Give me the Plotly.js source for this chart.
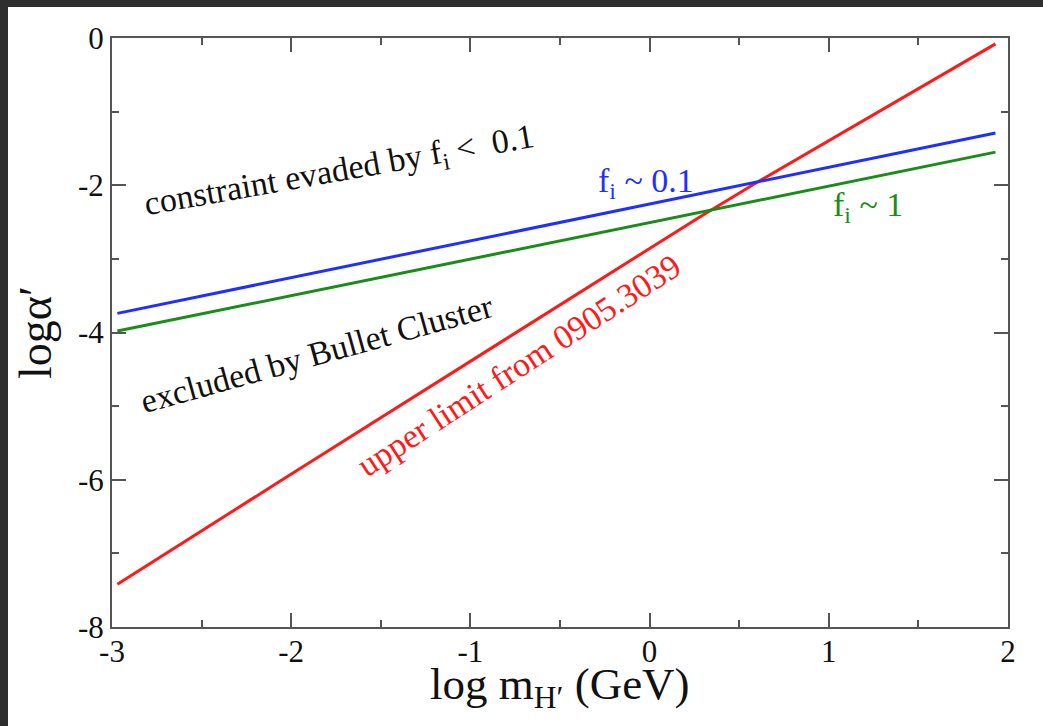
<!DOCTYPE html>
<html><head><meta charset="utf-8">
<script src="https://cdn.plot.ly/plotly-3.0.1.min.js"></script>
<style>
html,body{margin:0;padding:0;background:#2e2e2e;width:1043px;height:726px;overflow:hidden;}
#chart{position:absolute;left:8px;top:7px;width:1035px;height:719px;background:#fff;}
</style></head><body>
<div id="chart"></div>
<script>
// Data (log10 scale)
const redX = [-2.97, -2.05, 0.28, 0.60, 1.93];
const redY = [-7.42, -6.00, -2.43, -1.96, -0.08];
const blueX = [-2.97, 1.93];
const blueY = [-3.74, -1.29];
const greenX = [-2.97, 1.93];
const greenY = [-3.98, -1.55];
const xTickVals = [-3, -2, -1, 0, 1, 2];
const yTickVals = [0, -2, -4, -6, -8];

const font = "Liberation Serif";
const traces = [
  {x: redX, y: redY, mode: 'lines', line: {color: '#ff1a1a', width: 3}, name: 'upper limit'},
  {x: blueX, y: blueY, mode: 'lines', line: {color: '#1f2fff', width: 3}, name: 'fi~0.1'},
  {x: greenX, y: greenY, mode: 'lines', line: {color: '#1a8c1a', width: 3}, name: 'fi~1'}
];
const axisCommon = {
  showgrid: false, zeroline: false, showline: true, linecolor: '#555', linewidth: 2,
  mirror: 'ticks', ticks: 'inside', ticklen: 14, tickwidth: 2, tickcolor: '#555',
  tickfont: {family: font, size: 31, color: '#111'}
};
const layout = {
  width: 1035, height: 719,
  margin: {l: 104, r: 35, t: 31, b: 99},
  paper_bgcolor: '#fff', plot_bgcolor: '#fff',
  showlegend: false,
  xaxis: Object.assign({}, axisCommon, {
    range: [-3, 2], tickvals: xTickVals, ticktext: xTickVals.map(String),
    ticklabelstandoff: -4,
    minor: {dtick: 0.5, tick0: 0, ticks: 'inside', ticklen: 7, tickwidth: 2, tickcolor: '#555'}
  }),
  yaxis: Object.assign({}, axisCommon, {
    range: [-8, 0], tickvals: yTickVals, ticktext: yTickVals.map(String),
    minor: {dtick: 1, tick0: 0, ticks: 'inside', ticklen: 7, tickwidth: 2, tickcolor: '#555'},
    title: {text: 'logα′', font: {family: font, size: 46, color: '#111'}, standoff: 12}
  }),
  annotations: [
    {xref: 'paper', yref: 'paper', x: 0.5, y: -0.102, xanchor: 'center', yanchor: 'middle',
     text: 'log m<sub>H′</sub> (GeV)', showarrow: false,
     font: {family: font, size: 45, color: '#111'}},
    {x: -1.73, y: -1.82, text: 'constraint evaded by f<sub>i</sub> <  0.1', showarrow: false, textangle: -10,
     font: {family: font, size: 34, color: '#111'}},
    {x: -0.02, y: -1.97, text: 'f<sub>i</sub> ~ 0.1', showarrow: false,
     font: {family: font, size: 34, color: '#1f2fff'}},
    {x: 1.22, y: -2.29, text: 'f<sub>i</sub> ~ 1', showarrow: false,
     font: {family: font, size: 34, color: '#1a8c1a'}},
    {x: -1.855, y: -4.29, text: 'excluded by Bullet Cluster', showarrow: false, textangle: -15.5,
     font: {family: font, size: 34, color: '#111'}},
    {x: -0.73, y: -4.45, text: 'upper limit from 0905.3039', showarrow: false, textangle: -33,
     font: {family: font, size: 34, color: '#ff1a1a'}}
  ]
};
Plotly.newPlot('chart', traces, layout, {staticPlot: true, displayModeBar: false});
</script>
</body></html>
